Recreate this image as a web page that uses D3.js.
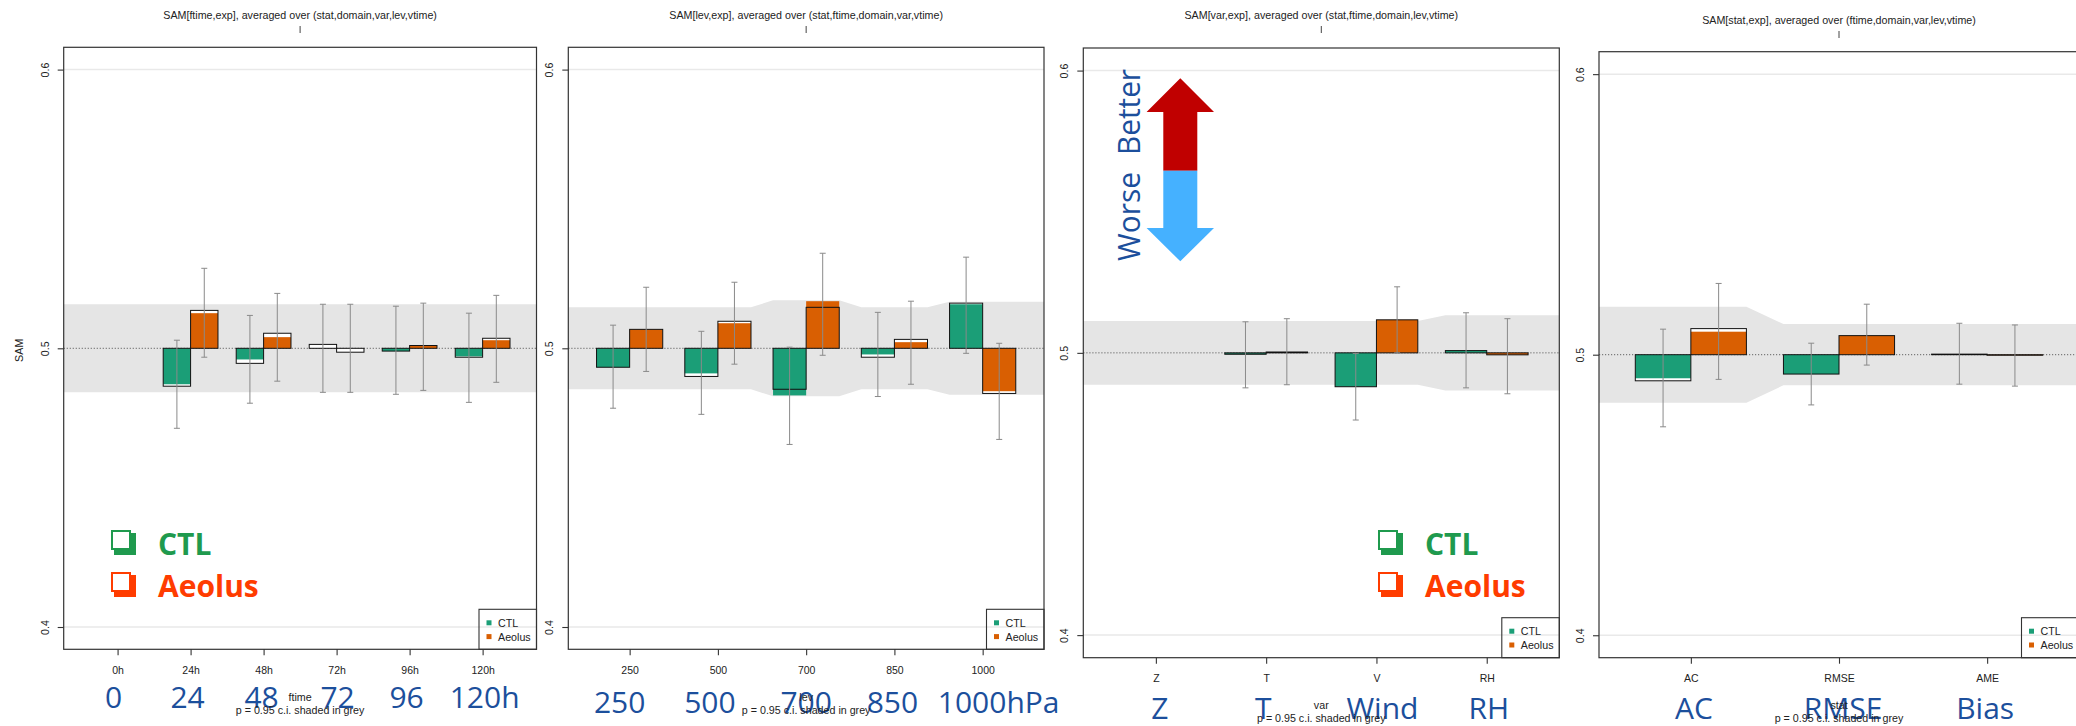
<!DOCTYPE html>
<html>
<head>
<meta charset="utf-8">
<script src="https://cdn.jsdelivr.net/npm/d3@7"></script>
<style>
  html, body { margin: 0; padding: 0; background: #fff; }
  svg { display: block; }
</style>
</head>
<body>
<svg id="chart" width="2076" height="726"></svg>
<script>
// ================= DATA =================
const expNames = ["CTL", "Aeolus"];
const yTicks = [0.4, 0.5, 0.6];

// --- panel 1 : ftime ---
const ftimeCats   = ["0h", "24h", "48h", "72h", "96h", "120h"];
const ftimeBig    = ["0", "24", "48", "72", "96", "120h"];
const ftimeCtlFill = [null, 0.4871, 0.4960, 0.5000, 0.4990, 0.4971];
const ftimeCtlBox  = [null, 0.4864, 0.4946, 0.5014, 0.4990, 0.4968];
const ftimeCtlLo   = [null, 0.4713, 0.4803, 0.4842, 0.4835, 0.4806];
const ftimeCtlHi   = [null, 0.5029, 0.5118, 0.5158, 0.5151, 0.5126];
const ftimeAeoFill = [null, 0.5126, 0.5040, 0.5000, 0.5010, 0.5029];
const ftimeAeoBox  = [null, 0.5136, 0.5054, 0.4986, 0.5010, 0.5036];
const ftimeAeoLo   = [null, 0.4968, 0.4882, 0.4842, 0.4849, 0.4878];
const ftimeAeoHi   = [null, 0.5287, 0.5197, 0.5158, 0.5162, 0.5190];
const ftimeBand    = [0.0158, 0.0158, 0.0158, 0.0158, 0.0158, 0.0158];

// --- panel 2 : lev ---
const levCats   = ["250", "500", "700", "850", "1000"];
const levBig    = ["250", "500", "700", "850", "1000hPa"];
const levCtlFill = [0.4932, 0.4910, 0.4831, 0.4978, 0.5158];
const levCtlBox  = [0.4932, 0.4899, 0.4853, 0.4968, 0.5162];
const levCtlLo   = [0.4785, 0.4763, 0.4655, 0.4827, 0.4982];
const levCtlHi   = [0.5083, 0.5061, 0.5004, 0.5129, 0.5327];
const levAeoFill = [0.5068, 0.5090, 0.5169, 0.5022, 0.4846];
const levAeoBox  = [0.5068, 0.5097, 0.5147, 0.5032, 0.4838];
const levAeoLo   = [0.4917, 0.4943, 0.4975, 0.4871, 0.4673];
const levAeoHi   = [0.5219, 0.5237, 0.5341, 0.5169, 0.5018];
const levBand    = [0.0147, 0.0147, 0.0172, 0.0147, 0.0167];

// --- panel 3 : var ---
const varCats   = ["Z", "T", "V", "RH"];
const varBig    = ["Z", "T", "Wind", "RH"];
const varCtlFill = [null, 0.4995, 0.4880, 0.5008];
const varCtlBox  = [null, 0.4995, 0.4880, 0.5008];
const varCtlLo   = [null, 0.4876, 0.4762, 0.4876];
const varCtlHi   = [null, 0.5110, 0.4998, 0.5142];
const varAeoFill = [null, 0.5003, 0.5117, 0.4993];
const varAeoBox  = [null, 0.5003, 0.5117, 0.4993];
const varAeoLo   = [null, 0.4887, 0.5000, 0.4855];
const varAeoHi   = [null, 0.5121, 0.5234, 0.5121];
const varBand    = [0.0113, 0.0113, 0.0113, 0.0133];

// --- panel 4 : stat ---
const statCats   = ["AC", "RMSE", "AME"];
const statBig    = ["AC", "RMSE", "Bias"];
const statCtlFill = [0.4916, 0.4931, 0.5002];
const statCtlBox  = [0.4907, 0.4931, 0.5002];
const statCtlLo   = [0.4743, 0.4821, 0.4895];
const statCtlHi   = [0.5091, 0.5041, 0.5112];
const statAeoFill = [0.5082, 0.5068, 0.4998];
const statAeoBox  = [0.5093, 0.5068, 0.4998];
const statAeoLo   = [0.4912, 0.4963, 0.4888];
const statAeoHi   = [0.5254, 0.5180, 0.5106];
const statBand    = [0.0171, 0.0109, 0.0109];

const titles = [
  "SAM[ftime,exp], averaged over (stat,domain,var,lev,vtime)",
  "SAM[lev,exp], averaged over (stat,ftime,domain,var,vtime)",
  "SAM[var,exp], averaged over (stat,ftime,domain,lev,vtime)",
  "SAM[stat,exp], averaged over (ftime,domain,var,lev,vtime)"
];
const axisNames = ["ftime", "lev", "var", "stat"];
const ciNote = "p = 0.95 c.i. shaded in grey";

// ================= STYLE / LAYOUT =================
const COL_CTL = "#1b9e77", COL_AEO = "#d95f02";
const BIG_BLUE = "#1c4f9c";
const LEG_GREEN = "#1f9a4e", LEG_RED = "#ff3c00";
const smallFont = "'Liberation Sans', Arial, Helvetica, sans-serif";
const bigFont = "'Open Sans', 'Noto Sans', sans-serif";

const panels = [
  { cats: ftimeCats, big: ftimeBig, band: ftimeBand,
    ctl: [ftimeCtlFill, ftimeCtlBox, ftimeCtlLo, ftimeCtlHi],
    aeo: [ftimeAeoFill, ftimeAeoBox, ftimeAeoLo, ftimeAeoHi],
    L: {x0: 63.7, x1: 536.5, y0: 47.3, y1: 649.3, pad: 0.738, titleY: 15, tickY: 670, nameY: 697, pY: 709.5, bigY: 707.5,
        bigDx: [-4, -3, -2, 1, -3, 2]} },
  { cats: levCats, big: levBig, band: levBand,
    ctl: [levCtlFill, levCtlBox, levCtlLo, levCtlHi],
    aeo: [levAeoFill, levAeoBox, levAeoLo, levAeoHi],
    L: {x0: 568.3, x1: 1044, y0: 47.3, y1: 649.3, pad: 0.695, titleY: 15, tickY: 670, nameY: 697, pY: 709.5, bigY: 713,
        bigDx: [-10, -8, 0, -2, 16]} },
  { cats: varCats, big: varBig, band: varBand,
    ctl: [varCtlFill, varCtlBox, varCtlLo, varCtlHi],
    aeo: [varAeoFill, varAeoBox, varAeoLo, varAeoHi],
    L: {x0: 1083.3, x1: 1559.3, y0: 48, y1: 657.7, pad: 0.658, titleY: 15, tickY: 678, nameY: 705, pY: 718, bigY: 718.5,
        bigDx: [4, -3, 6, 2]} },
  { cats: statCats, big: statBig, band: statBand,
    ctl: [statCtlFill, statCtlBox, statCtlLo, statCtlHi],
    aeo: [statAeoFill, statAeoBox, statAeoLo, statAeoHi],
    L: {x0: 1599, x1: 2079, y0: 51.7, y1: 657.7, pad: 0.62, titleY: 20, tickY: 678, nameY: 705, pY: 718, bigY: 718.5,
        bigDx: [3, 4, -2]} }
];

const svg = d3.select("#chart");
svg.append("rect").attr("width", 2076).attr("height", 726).attr("fill", "#fff");

panels.forEach((p, pi) => {
  const L = p.L;
  const g = svg.append("g");
  const x = d3.scalePoint().domain(p.cats).range([L.x0, L.x1]).padding(L.pad);
  const y = d3.scaleLinear().domain([0.392, 0.608]).range([L.y1, L.y0]);
  const step = x.step();
  const w = 0.375 * step;
  const cx = (L.x0 + L.x1) / 2;

  // title + small mark
  g.append("text").attr("x", cx).attr("y", L.titleY)
    .attr("text-anchor", "middle").attr("dominant-baseline", "central")
    .attr("font-family", smallFont).attr("font-size", 10.7).attr("fill", "#222")
    .text(titles[pi]);
  g.append("line").attr("x1", cx).attr("x2", cx)
    .attr("y1", L.titleY + 11).attr("y2", L.titleY + 18)
    .attr("stroke", "#444").attr("stroke-width", 1);

  // CI band
  const upper = [], lower = [];
  p.cats.forEach((c, i) => {
    const xa = i === 0 ? L.x0 : x(c) - w;
    const xb = i === p.cats.length - 1 ? L.x1 : x(c) + w;
    upper.push([xa, y(0.5 + p.band[i])], [xb, y(0.5 + p.band[i])]);
    lower.push([xa, y(0.5 - p.band[i])], [xb, y(0.5 - p.band[i])]);
  });
  const poly = upper.concat(lower.reverse());
  g.append("path").attr("d", d3.line()(poly) + "Z").attr("fill", "#e5e5e5");

  // grid lines at 0.4/0.6
  [0.4, 0.6].forEach(v => {
    g.append("line").attr("x1", L.x0).attr("x2", L.x1)
      .attr("y1", y(v)).attr("y2", y(v))
      .attr("stroke", "#e9e9e9").attr("stroke-width", 1.5);
  });
  // dotted reference at 0.5
  g.append("line").attr("x1", L.x0).attr("x2", L.x1)
    .attr("y1", y(0.5)).attr("y2", y(0.5))
    .attr("stroke", "#555").attr("stroke-width", 0.9).attr("stroke-dasharray", "1.2,1.8");

  // bars
  const series = [
    {vals: p.ctl, color: COL_CTL, off: -w},
    {vals: p.aeo, color: COL_AEO, off: 0}
  ];
  const rectY = v => Math.min(y(v), y(0.5));
  const rectH = v => Math.abs(y(v) - y(0.5));
  series.forEach(s => {
    const [fill, box] = s.vals;
    const idx = p.cats.map((c, i) => i).filter(i => fill[i] !== null);
    const bg = g.append("g");
    bg.selectAll("rect.white").data(idx).join("rect")
      .attr("x", i => x(p.cats[i]) + s.off).attr("width", w)
      .attr("y", i => rectY(box[i])).attr("height", i => rectH(box[i]))
      .attr("fill", "#fff");
    bg.selectAll("rect.fillbar").data(idx).join("rect")
      .attr("x", i => x(p.cats[i]) + s.off).attr("width", w)
      .attr("y", i => rectY(fill[i])).attr("height", i => rectH(fill[i]))
      .attr("fill", s.color);
  });
  series.forEach(s => {
    const [fill, box] = s.vals;
    const idx = p.cats.map((c, i) => i).filter(i => fill[i] !== null);
    g.append("g").selectAll("rect").data(idx).join("rect")
      .attr("x", i => x(p.cats[i]) + s.off).attr("width", w)
      .attr("y", i => rectY(box[i])).attr("height", i => Math.max(0.3, rectH(box[i])))
      .attr("fill", "none").attr("stroke", "#111").attr("stroke-width", 1);
  });
  // error bars
  series.forEach(s => {
    const [fill, box, lo, hi] = s.vals;
    const idx = p.cats.map((c, i) => i).filter(i => lo[i] !== null);
    const eg = g.append("g").attr("stroke", "#8a8a8a").attr("stroke-width", 1).attr("fill", "none");
    idx.forEach(i => {
      const xc = x(p.cats[i]) + s.off + w / 2;
      eg.append("line").attr("x1", xc).attr("x2", xc).attr("y1", y(lo[i])).attr("y2", y(hi[i]));
      eg.append("line").attr("x1", xc - 3).attr("x2", xc + 3).attr("y1", y(lo[i])).attr("y2", y(lo[i]));
      eg.append("line").attr("x1", xc - 3).attr("x2", xc + 3).attr("y1", y(hi[i])).attr("y2", y(hi[i]));
    });
  });

  // frame
  g.append("rect").attr("x", L.x0).attr("y", L.y0)
    .attr("width", L.x1 - L.x0).attr("height", L.y1 - L.y0)
    .attr("fill", "none").attr("stroke", "#333").attr("stroke-width", 1.2);

  // x axis
  const xa = g.append("g").attr("transform", `translate(0,${L.y1})`)
    .call(d3.axisBottom(x).tickSize(6));
  xa.select(".domain").remove();
  xa.selectAll("line").attr("stroke", "#333").attr("stroke-width", 1.1);
  xa.selectAll("text").attr("y", L.tickY - L.y1).attr("dy", null)
    .attr("dominant-baseline", "central")
    .attr("font-family", smallFont).attr("font-size", 10.5).attr("fill", "#222");

  // y axis
  const ya = g.append("g").attr("transform", `translate(${L.x0},0)`)
    .call(d3.axisLeft(y).tickValues(yTicks).tickSize(6).tickFormat(d3.format(".1f")));
  ya.select(".domain").remove();
  ya.selectAll("line").attr("stroke", "#333").attr("stroke-width", 1.1);
  ya.selectAll("text").attr("x", null).attr("dy", null)
    .attr("transform", "translate(-15,0) rotate(-90)")
    .attr("text-anchor", "middle")
    .attr("font-family", smallFont).attr("font-size", 10.7).attr("fill", "#222");

  if (pi === 0) {
    g.append("text").attr("transform", `translate(${L.x0 - 41},${(L.y0 + L.y1) / 2 + 2}) rotate(-90)`)
      .attr("text-anchor", "middle").attr("font-family", smallFont)
      .attr("font-size", 10.7).attr("fill", "#222").text("SAM");
  }

  // small legend box
  const lgX = L.x1 - 57.5, lgY = L.y1 - 40;
  g.append("rect").attr("x", lgX).attr("y", lgY).attr("width", 57.5).attr("height", 40)
    .attr("fill", "none").attr("stroke", "#333").attr("stroke-width", 1.1);
  expNames.forEach((n, k) => {
    const ty = lgY + 13.5 + k * 13.8;
    g.append("rect").attr("x", lgX + 7.5).attr("y", ty - 2.5).attr("width", 5).attr("height", 5)
      .attr("fill", k === 0 ? COL_CTL : COL_AEO);
    g.append("text").attr("x", lgX + 19).attr("y", ty).attr("dominant-baseline", "central")
      .attr("font-family", smallFont).attr("font-size", 10.7).attr("fill", "#222").text(n);
  });

  // big overlay category labels
  g.append("g").selectAll("text").data(p.cats).join("text")
    .attr("x", (c, i) => x(c) + L.bigDx[i]).attr("y", L.bigY)
    .attr("text-anchor", "middle")
    .attr("font-family", bigFont).attr("font-size", 30).attr("fill", BIG_BLUE)
    .text((c, i) => p.big[i]);

  // axis name + CI note
  g.append("text").attr("x", cx).attr("y", L.nameY).attr("text-anchor", "middle")
    .attr("dominant-baseline", "central").attr("font-family", smallFont)
    .attr("font-size", 10.7).attr("fill", "#222").text(axisNames[pi]);
  g.append("text").attr("x", cx).attr("y", L.pY).attr("text-anchor", "middle")
    .attr("dominant-baseline", "central").attr("font-family", smallFont)
    .attr("font-size", 10.7).attr("fill", "#222").text(ciNote);
});

// ---------- overlay: big legends ----------
function icon(x0, y0, color) {
  const gI = svg.append("g");
  gI.append("rect").attr("x", x0 + 1).attr("y", y0 + 1).attr("width", 18).attr("height", 18)
    .attr("fill", "none").attr("stroke", color).attr("stroke-width", 2);
  gI.append("path")
    .attr("d", `M${x0 + 20},${y0 + 3} L${x0 + 25},${y0 + 3} L${x0 + 25},${y0 + 25} L${x0 + 3},${y0 + 25} L${x0 + 3},${y0 + 20} L${x0 + 20},${y0 + 20} Z`)
    .attr("fill", color);
}
function bigLegend(ix, tx) {
  icon(ix, 530, LEG_GREEN);
  icon(ix, 572, LEG_RED);
  svg.append("text").attr("x", tx).attr("y", 555).attr("font-family", bigFont)
    .attr("font-weight", 700).attr("font-size", 30).attr("fill", LEG_GREEN).text(expNames[0]);
  svg.append("text").attr("x", tx).attr("y", 597).attr("font-family", bigFont)
    .attr("font-weight", 700).attr("font-size", 30).attr("fill", LEG_RED).text(expNames[1]);
}
bigLegend(111, 158);
bigLegend(1378, 1425);

// ---------- overlay: Worse / Better arrow ----------
const ax = 1180.3;
svg.append("path")
  .attr("d", `M${ax},78.3 L${ax + 33.7},112 L${ax + 17},112 L${ax + 17},170.7 L${ax - 17},170.7 L${ax - 17},112 L${ax - 33.7},112 Z`)
  .attr("fill", "#c00000");
svg.append("path")
  .attr("d", `M${ax - 17},170.7 L${ax + 17},170.7 L${ax + 17},228 L${ax + 33.7},228 L${ax},261.3 L${ax - 33.7},228 L${ax - 17},228 Z`)
  .attr("fill", "#45b1ff");
svg.append("text").attr("transform", "translate(1140,261) rotate(-90)")
  .attr("font-family", bigFont).attr("font-size", 31).attr("fill", BIG_BLUE)
  .attr("textLength", 89).attr("lengthAdjust", "spacingAndGlyphs").text("Worse");
svg.append("text").attr("transform", "translate(1140,155) rotate(-90)")
  .attr("font-family", bigFont).attr("font-size", 31).attr("fill", BIG_BLUE)
  .attr("textLength", 86).attr("lengthAdjust", "spacingAndGlyphs").text("Better");
</script>
</body>
</html>
